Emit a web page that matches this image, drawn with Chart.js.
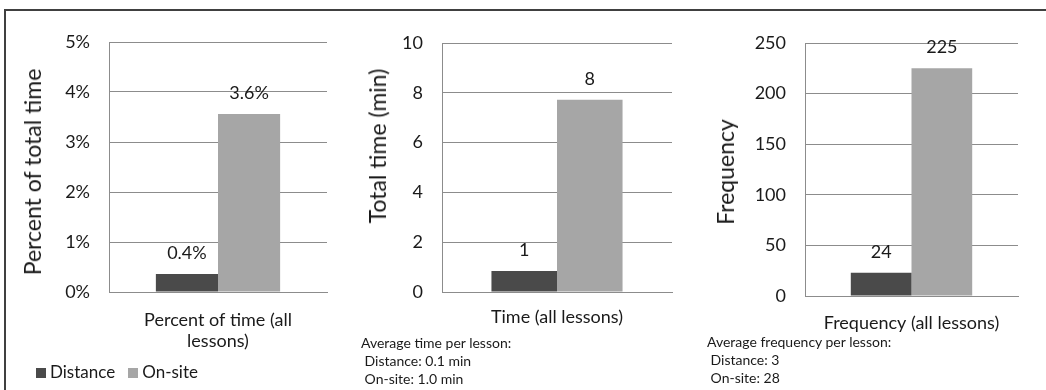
<!DOCTYPE html>
<html>
<head>
<meta charset="utf-8">
<script src="https://cdn.jsdelivr.net/npm/chart.js@4.4.1/dist/chart.umd.min.js"></script>
<style>
  body { margin: 0; width: 1046px; height: 390px; overflow: hidden; background: #fff; position: relative;
         font-family: Lato, "Open Sans", sans-serif; color: #1a1a1a; }
  #frame { position: absolute; left: 4px; top: 9px; width: 1100px; height: 400px;
           border-left: 2px solid #404040; border-top: 2px solid #404040; }
  canvas { position: absolute; top: 0; }
  .ytitle { position: absolute; font-size: 23px; white-space: nowrap;
            transform: translate(-50%, -50%) rotate(-90deg); }
  .note { position: absolute; font-size: 14px; line-height: 18px; white-space: pre; }
  .legend { position: absolute; top: 362px; left: 36px; font-size: 17px; line-height: 20px; }
  .legend span { display: inline-block; width: 10px; height: 10px; margin-right: 4px; }
</style>
</head>
<body>
<div id="frame"></div>
<canvas id="c1" width="340" height="390" style="left:0px"></canvas>
<canvas id="c2" width="350" height="390" style="left:340px"></canvas>
<canvas id="c3" width="356" height="390" style="left:690px"></canvas>

<div class="ytitle" style="left:32px;top:172px">Percent of total time</div>
<div class="ytitle" style="left:377px;top:146px">Total time (min)</div>
<div class="ytitle" style="left:725px;top:172px">Frequency</div>

<div class="legend"><span style="background:#4a4a4a"></span>Distance &nbsp;&nbsp;<span style="background:#a6a6a6"></span>On-site</div>
<div class="note" style="left:361px;top:334px">Average time per lesson:
 Distance: 0.1 min
 On-site: 1.0 min</div>
<div class="note" style="left:707px;top:333px">Average frequency per lesson:
 Distance: 3
 On-site: 28</div>

<script>
// categories (one per chart)
var categoriesPercent = [['Percent of time (all', 'lessons)']];
var categoriesTime = ['Time (all lessons)'];
var categoriesFreq = ['Frequency (all lessons)'];
var seriesNames = ['Distance', 'On-site'];

// series values
var distancePercent = [0.36];
var onsitePercent = [3.56];
var distanceTime = [0.84];
var onsiteTime = [7.72];
var distanceFreq = [23];
var onsiteFreq = [225];

// value labels printed above the bars
var labelsPercent = ['0.4%', '3.6%'];
var labelsTime = ['1', '8'];
var labelsFreq = ['24', '225'];

// y axis ranges: min, max, step
var axisPercent = [0, 5, 1];
var axisTime = [0, 10, 2];
var axisFreq = [0, 250, 50];

var darkGrey = '#4a4a4a';
var lightGrey = '#a6a6a6';
var gridGrey = '#8c8c8c';
var textColor = '#1a1a1a';

Chart.defaults.font.family = 'Lato, "Open Sans", sans-serif';
Chart.defaults.color = textColor;

var barLabels = {
    id: 'barLabels',
    afterDatasetsDraw: function (chart, args, opts) {
        var ctx = chart.ctx;
        ctx.save();
        ctx.font = '18px Lato, sans-serif';
        ctx.fillStyle = textColor;
        ctx.textAlign = 'center';
        ctx.textBaseline = 'middle';
        chart.data.datasets.forEach(function (ds, i) {
            chart.getDatasetMeta(i).data.forEach(function (bar) {
                ctx.fillText(opts.texts[i], bar.x, bar.y - 21);
            });
        });
        ctx.restore();
    }
};

function renderBarChart(id, categories, distance, onsite, texts, axis, suffix, box) {
    var ctx = document.getElementById(id).getContext('2d');
    return new Chart(ctx, {
        type: 'bar',
        data: {
            labels: categories,
            datasets: [
                { label: seriesNames[0], data: distance, backgroundColor: darkGrey },
                { label: seriesNames[1], data: onsite, backgroundColor: lightGrey }
            ]
        },
        options: {
            responsive: false,
            animation: false,
            categoryPercentage: 0.57,
            barPercentage: 1,
            layout: { padding: { left: 0, top: box.top, right: box.right, bottom: 390 - box.bottom - 60 } },
            plugins: {
                legend: { display: false },
                tooltip: { enabled: false },
                barLabels: { texts: texts }
            },
            scales: {
                x: {
                    grid: { display: false, drawTicks: false },
                    border: { display: true, color: gridGrey },
                    ticks: { padding: box.xpad, font: { size: 18 }, color: textColor },
                    afterFit: function (s) { s.height = 60; }
                },
                y: {
                    min: axis[0],
                    max: axis[1],
                    ticks: {
                        stepSize: axis[2],
                        padding: 19,
                        font: { size: 18 },
                        color: textColor,
                        callback: function (v) { return v + suffix; }
                    },
                    grid: { color: gridGrey, drawTicks: false },
                    border: { display: true, color: gridGrey },
                    afterFit: function (s) { s.width = box.left; }
                }
            }
        },
        plugins: [barLabels]
    });
}

renderBarChart('c1', categoriesPercent, distancePercent, onsitePercent, labelsPercent, axisPercent, '%',
    { left: 109, right: 13, top: 42, bottom: 292, xpad: 17 });
renderBarChart('c2', categoriesTime, distanceTime, onsiteTime, labelsTime, axisTime, '',
    { left: 102, right: 18, top: 43, bottom: 292, xpad: 14 });
renderBarChart('c3', categoriesFreq, distanceFreq, onsiteFreq, labelsFreq, axisFreq, '',
    { left: 115, right: 28, top: 43, bottom: 296, xpad: 16 });
</script>
</body>
</html>
